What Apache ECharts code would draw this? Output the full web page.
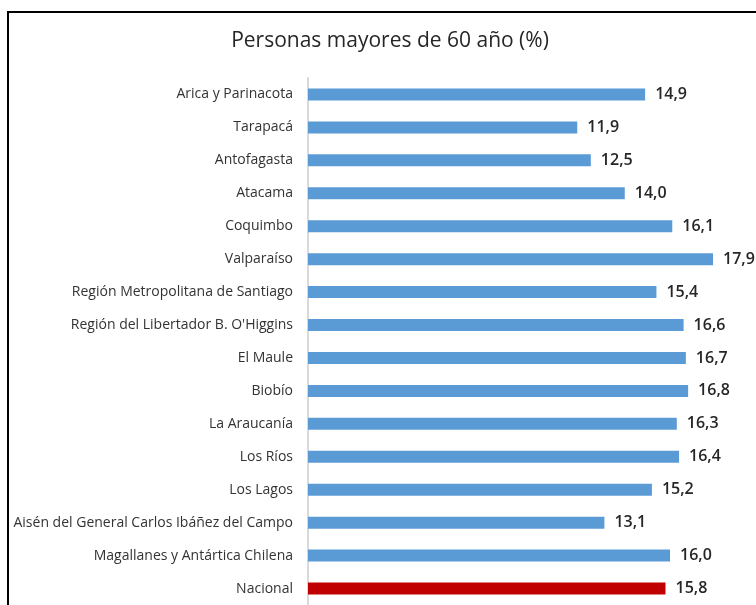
<!DOCTYPE html>
<html>
<head>
<meta charset="utf-8">
<script src="https://cdn.jsdelivr.net/npm/echarts@6/dist/echarts.min.js"></script>
<style>
  html, body { margin: 0; padding: 0; background: #fff; }
  #chart { width: 756px; height: 605px; }
</style>
</head>
<body>
<div id="chart"></div>
<script>
// regions, top to bottom as drawn
const regions = [
  'Arica y Parinacota', 'Tarapacá', 'Antofagasta', 'Atacama', 'Coquimbo',
  'Valparaíso', 'Región Metropolitana de Santiago', "Región del Libertador B. O'Higgins",
  'El Maule', 'Biobío', 'La Araucanía', 'Los Ríos', 'Los Lagos',
  'Aisén del General Carlos Ibáñez del Campo', 'Magallanes y Antártica Chilena', 'Nacional'
]
const pct60 = [14.9, 11.9, 12.5, 14.0, 16.1, 17.9, 15.4, 16.6, 16.7, 16.8, 16.3, 16.4, 15.2, 13.1, 16.0, 15.8]
const highlight = 'Nacional'

const chart = echarts.init(document.getElementById('chart'))

chart.setOption({
  animation: false,
  backgroundColor: '#fff',
  title: {
    text: 'Personas mayores de 60 año (%)',
    left: 385,
    top: 26,
    textAlign: 'center',
    textStyle: { fontFamily: 'Open Sans', fontSize: 21, fontWeight: 'normal', color: '#262626' }
  },
  graphic: [{
    type: 'rect',
    shape: { x: 8, y: 12, width: 900, height: 800 },
    style: { fill: 'none', stroke: '#000', lineWidth: 2 },
    silent: true
  }],
  grid: { left: 308, top: 78, width: 448, height: 532 },
  xAxis: {
    type: 'value',
    min: 0,
    max: 19.8,
    show: false
  },
  yAxis: {
    type: 'category',
    inverse: true,
    data: regions,
    axisLine: { lineStyle: { color: '#d9d9d9', width: 2 } },
    axisTick: { show: false },
    axisLabel: {
      margin: 15,
      fontFamily: 'Open Sans',
      fontSize: 14,
      color: '#333'
    }
  },
  series: [{
    type: 'bar',
    barWidth: 12,
    data: pct60.map((v, i) => ({
      value: v,
      itemStyle: { color: regions[i] === highlight ? '#c00000' : '#5b9bd5' }
    })),
    label: {
      show: true,
      position: 'right',
      distance: 10,
      fontFamily: 'Open Sans',
      fontSize: 16,
      fontWeight: 600,
      color: '#262626',
      formatter: p => p.value.toFixed(1).replace('.', ',')
    }
  }]
})
</script>
</body>
</html>
